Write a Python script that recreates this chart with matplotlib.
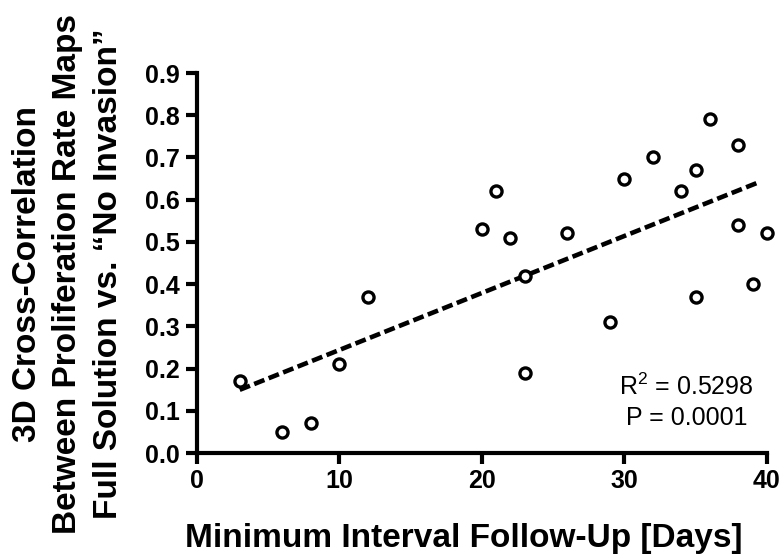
import numpy as np
import matplotlib
matplotlib.use("Agg")
import matplotlib.pyplot as plt

plt.rcParams['font.family'] = ['Liberation Sans', 'DejaVu Sans']
plt.rcParams['mathtext.fontset'] = 'custom'
plt.rcParams['mathtext.rm'] = 'Liberation Sans'

# follow-up interval (days) vs. cross-correlation
days = [3, 6, 8, 10, 12, 20, 21, 22, 23, 23, 26, 29, 30, 32, 34, 35, 35, 36, 38, 38, 39, 40]
corr = [0.17, 0.05, 0.07, 0.21, 0.37, 0.53, 0.62, 0.51, 0.42, 0.19, 0.52, 0.31,
        0.65, 0.70, 0.62, 0.67, 0.37, 0.79, 0.73, 0.54, 0.40, 0.52]
xticks = [0, 10, 20, 30, 40]
yticks = [0.0, 0.1, 0.2, 0.3, 0.4, 0.5, 0.6, 0.7, 0.8, 0.9]
r2_text = "R$^\\mathrm{2}$ = 0.5298"
p_text = "P = 0.0001"

fig = plt.figure(figsize=(7.81, 5.59), dpi=100)
ax = fig.add_axes([0.2522, 0.1896, 0.7298, 0.6798])

# linear fit
slope, icpt = np.polyfit(days, corr, 1)
fx = np.array([min(days), max(days) - 0.6])
ax.plot(fx, slope * fx + icpt, color='black', lw=3.3, ls=(0, (2.4, 1.0)),
        dash_capstyle='butt', clip_on=False, zorder=2)

ax.plot(days, corr, 'o', ms=8, mfc='white', mec='black', mew=2.4,
        clip_on=False, zorder=3)

ax.set_xlim(0, 40)
ax.set_ylim(0, 0.9)
ax.set_xticks(xticks)
ax.set_yticks(yticks)
ax.set_yticklabels([f"{v:.1f}" for v in yticks])
ax.spines['top'].set_visible(False)
ax.spines['right'].set_visible(False)
for s in ('left', 'bottom'):
    ax.spines[s].set_linewidth(3.0)
ax.tick_params(direction='out', length=8, width=3.0, labelsize=18)
ax.tick_params(axis='x', pad=3.5)
ax.tick_params(axis='y', pad=4.5)
for lab in ax.get_xticklabels() + ax.get_yticklabels():
    lab.set_fontweight('bold')

ax.set_xlabel("Minimum Interval Follow-Up [Days]", fontsize=24, fontweight='bold')
ax.xaxis.label.set_verticalalignment('baseline')
ax.xaxis.set_label_coords(0.468, -0.247)
ax.set_ylabel("3D Cross-Correlation\nBetween Proliferation Rate Maps\nFull Solution vs. \u201cNo Invasion\u201d",
              fontsize=24, fontweight='bold', linespacing=1.38)
ax.yaxis.label.set_verticalalignment('center')
ax.yaxis.set_label_coords(-0.2263, 0.471)

ax.text(34.35, 0.1374, r2_text, ha='center', va='baseline', fontsize=18)
ax.text(34.35, 0.0663, p_text, ha='center', va='baseline', fontsize=18)

fig.savefig("out.png", dpi=100)
